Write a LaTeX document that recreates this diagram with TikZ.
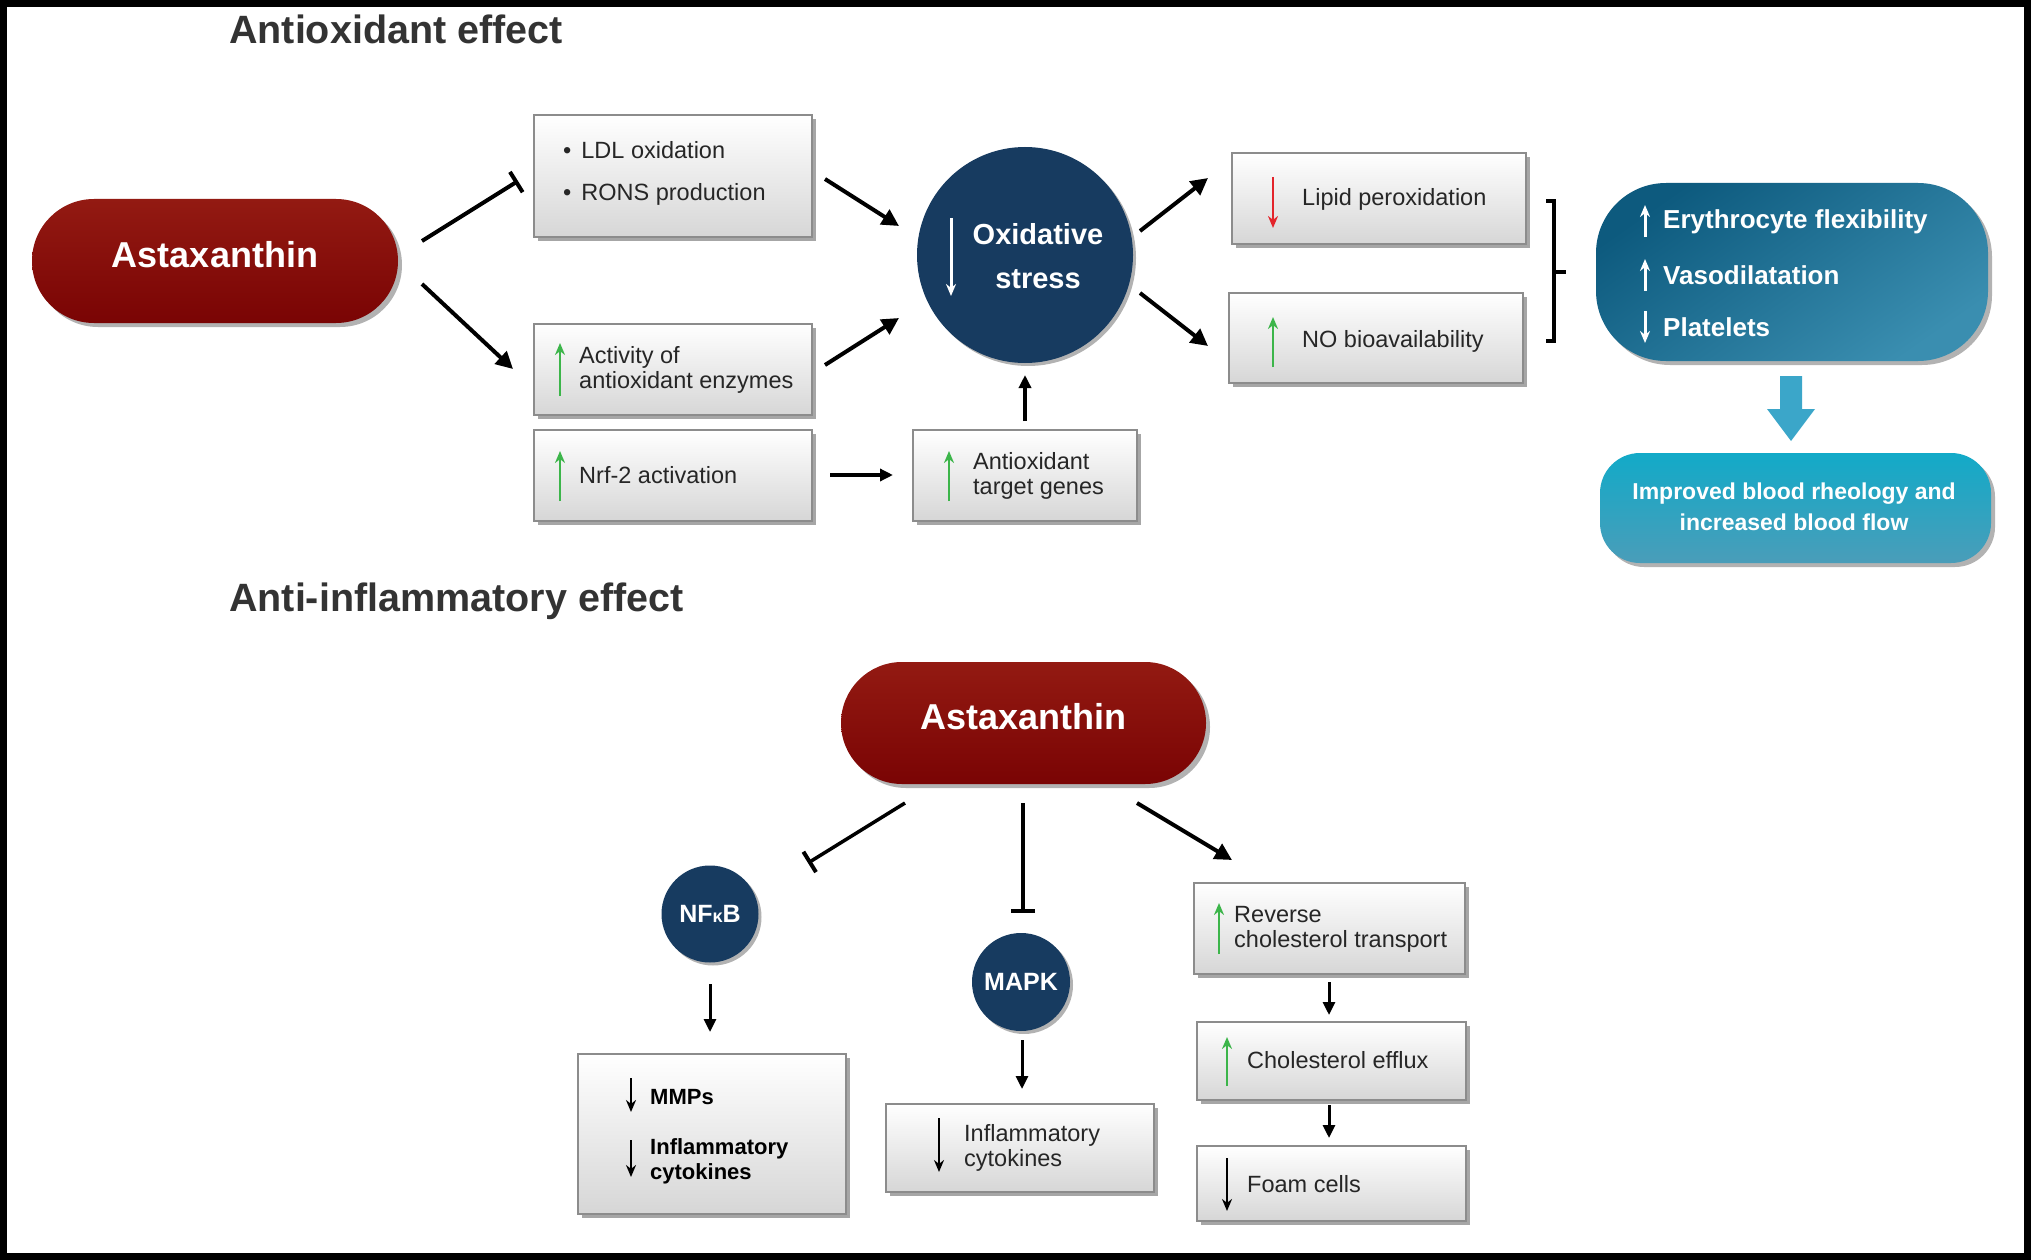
\documentclass[tikz,border=0pt]{standalone}
\usepackage{fontspec}
\setmainfont{Liberation Sans}
\usetikzlibrary{arrows.meta,shadows,shapes.misc}
\definecolor{navy}{HTML}{173B60}
\definecolor{txtc}{HTML}{262626}
\definecolor{titc}{HTML}{333333}
\definecolor{grn}{HTML}{3CB54A}
\definecolor{rd}{HTML}{E3242B}
\definecolor{darkred}{HTML}{7A0404}
\definecolor{midred}{HTML}{931A12}
\definecolor{tealA}{HTML}{0D5A7E}
\definecolor{tealB}{HTML}{3A8EB0}
\definecolor{cyanA}{HTML}{12AAC8}
\definecolor{cyanB}{HTML}{4A9DB9}
\definecolor{arrc}{HTML}{3BA6C9}
\tikzset{
  bx/.style={draw=black!45, line width=1.3pt, top color=white, bottom color=black!16,
    drop shadow={shadow xshift=4pt,shadow yshift=-4pt,opacity=.35,fill=black}, inner sep=0pt},
  pill/.style={rounded rectangle, top color=midred, bottom color=darkred, inner sep=0pt,
    drop shadow={shadow xshift=4pt,shadow yshift=-4pt,opacity=.3,fill=black}},
  pilltxt/.style={text=white, inner sep=0pt, font=\bfseries\fontsize{36}{40}\selectfont},
  navyc/.style={circle, fill=navy, inner sep=0pt, text=white,
    drop shadow={shadow xshift=3pt,shadow yshift=-3pt,opacity=.3,fill=black}},
  txt/.style={font=\fontsize{23.5}{25}\selectfont, text=txtc, anchor=west, align=left, inner sep=0pt},
  btxt/.style={font=\bfseries\fontsize{22}{25}\selectfont, text=black, anchor=west, align=left, inner sep=0pt},
  wtxt/.style={font=\bfseries\fontsize{26}{30}\selectfont, text=white, anchor=west, inner sep=0pt},
  title/.style={font=\bfseries\fontsize{39.5}{44}\selectfont, text=titc, anchor=west, inner sep=0pt},
  conn/.style={line width=4pt, -{Triangle[length=17pt,width=17pt]}},
  sconn/.style={line width=3pt, -{Triangle[length=13pt,width=12pt]}},
  inh/.style={line width=4pt, -{Bar[width=24pt,line width=4pt]}},
  gup/.style={grn, line width=2.8pt, -{Stealth[length=12pt,width=10pt]}},
  rdown/.style={rd, line width=2.8pt, -{Stealth[length=12pt,width=10pt]}},
  kdown/.style={black, line width=2.8pt, -{Stealth[length=12pt,width=10pt]}},
  warr/.style={white, line width=3pt, -{Stealth[length=12pt,width=10pt]}},
}
\begin{document}
\begin{tikzpicture}[x=1pt,y=-1pt]
\useasboundingbox (0,0) rectangle (2031,1260);
\fill[white] (0,0) rectangle (2031,1260);
\draw[black, line width=7pt] (3.5,3.5) rectangle (2027.5,1256.5);

% titles
\node[title] (t1) at (229,29) {Antioxidant effect};
\node[title] (t2) at (229,601) {Anti-inflammatory effect};

% ---------- antioxidant part ----------
\node[pill, minimum width=366pt, minimum height=124pt] (ast1) at (215,261) {};
\node[pilltxt] (ast1t) at (215,255) {Astaxanthin};

\node[bx, minimum width=278pt, minimum height=122pt] (ldl) at (673,176) {};
\node[txt] (ldlt) at (563,150) {•\hspace{10pt}LDL oxidation};
\node[txt] (ronst) at (563,194) {•\hspace{10pt}RONS production};

\node[bx, minimum width=278pt, minimum height=91pt] (act) at (673,369.5) {};
\draw[gup] (560,396) -- (560,343);
\node[txt] (actt) at (579,369.5) {Activity of\\antioxidant enzymes};

\node[bx, minimum width=278pt, minimum height=91pt] (nrf) at (673,475.5) {};
\draw[gup] (560,501) -- (560,451);
\node[txt] (nrft) at (579,475.5) {Nrf-2 activation};

\node[bx, minimum width=224pt, minimum height=91pt] (tgt) at (1025,475.5) {};
\draw[gup] (949,501) -- (949,451);
\node[txt] (tgtt) at (973,476) {Antioxidant\\target genes};

\node[navyc, minimum size=216pt] (ox) at (1025,255) {};
\draw[warr] (951,218) -- (951,296);
\node[font=\bfseries\fontsize{29}{44}\selectfont, text=white, align=center, inner sep=0pt] (oxt) at (1038,256) {Oxidative\\stress};

\node[bx, minimum width=294pt, minimum height=91pt] (lip) at (1379,198.5) {};
\draw[rdown] (1273,177) -- (1273,228);
\node[txt] (lipt) at (1302,199) {Lipid peroxidation};

\node[bx, minimum width=294pt, minimum height=90pt] (no) at (1376,338) {};
\draw[gup] (1273,367) -- (1273,317);
\node[txt] (not) at (1302,341) {NO bioavailability};

% bracket
\draw[line width=4pt] (1546,201) -- (1554,201) -- (1554,341) -- (1546,341);
\draw[line width=4pt] (1554,272) -- (1566,272);

\node[rectangle, rounded corners=70pt, minimum width=392pt, minimum height=178pt,
      top color=tealA, bottom color=tealB, shading angle=35, inner sep=0pt,
      drop shadow={shadow xshift=4pt,shadow yshift=-4pt,opacity=.3,fill=black}] (teal) at (1792,272) {};
\draw[warr] (1645,237) -- (1645,205);
\node[wtxt] (ery) at (1663,222) {Erythrocyte flexibility};
\draw[warr] (1645,291) -- (1645,259);
\node[wtxt] (vas) at (1663,275) {Vasodilatation};
\draw[warr] (1645,311) -- (1645,343);
\node[wtxt] (pla) at (1663,327) {Platelets};

\fill[arrc] (1780,376) -- (1802,376) -- (1802,409) -- (1815,409) -- (1791,441) -- (1767,409) -- (1780,409) -- cycle;

\node[rectangle, rounded corners=40pt, minimum width=391pt, minimum height=110pt,
      top color=cyanA, bottom color=cyanB, inner sep=0pt,
      drop shadow={shadow xshift=4pt,shadow yshift=-4pt,opacity=.3,fill=black}] (imp) at (1795.5,508) {};
\node[font=\bfseries\fontsize{23}{31}\selectfont, text=white, align=center, inner sep=0pt] (impt) at (1794,507) {Improved blood rheology and\\increased blood flow};

% connectors (top)
\coordinate (c1a) at (422,241); \coordinate (c1b) at (518,181);
\coordinate (c2a) at (422,284); \coordinate (c2b) at (513,369);
\coordinate (c3a) at (825,179); \coordinate (c3b) at (899,226);
\coordinate (c4a) at (825,365); \coordinate (c4b) at (899,318);
\coordinate (c5a) at (830,475); \coordinate (c5b) at (893,475);
\coordinate (c6a) at (1025,421); \coordinate (c6b) at (1025,375);
\coordinate (c7a) at (1140,231); \coordinate (c7b) at (1208,178);
\coordinate (c8a) at (1140,293); \coordinate (c8b) at (1208,346);
\draw[inh] (c1a) -- (c1b);
\draw[conn] (c2a) -- (c2b);
\draw[conn] (c3a) -- (c3b);
\draw[conn] (c4a) -- (c4b);
\draw[sconn, line width=3.5pt] (c5a) -- (c5b);
\draw[sconn, line width=3.5pt] (c6a) -- (c6b);
\draw[conn] (c7a) -- (c7b);
\draw[conn] (c8a) -- (c8b);

% ---------- anti-inflammatory part ----------
\node[pill, minimum width=365pt, minimum height=122pt] (ast2) at (1023.5,723) {};
\node[pilltxt] (ast2t) at (1023.5,717) {Astaxanthin};

\node[navyc, minimum size=97pt, font=\bfseries\fontsize{25}{28}\selectfont] (nfkb) at (710,914) {NF{\fontsize{18}{20}\selectfont κ}B};
\node[navyc, minimum size=98pt, font=\bfseries\fontsize{25}{28}\selectfont] (mapk) at (1021,982) {MAPK};

\node[bx, minimum width=268pt, minimum height=160pt] (mmp) at (712,1134) {};
\draw[kdown] (631,1078) -- (631,1112);
\node[btxt] (mmpt) at (650,1097) {MMPs};
\draw[kdown] (631,1140) -- (631,1177);
\node[btxt] (mmpi) at (650,1161) {Inflammatory\\cytokines};

\node[bx, minimum width=268pt, minimum height=88pt] (inf) at (1020,1148) {};
\draw[kdown] (939,1118) -- (939,1172);
\node[txt] (inft) at (964,1147.5) {Inflammatory\\cytokines};

\node[bx, minimum width=271pt, minimum height=91pt] (rev) at (1329.5,928.5) {};
\draw[gup] (1219,954) -- (1219,903);
\node[txt] (revt) at (1234,929.5) {Reverse\\cholesterol transport};

\node[bx, minimum width=269pt, minimum height=78pt] (eff) at (1331.5,1061) {};
\draw[gup] (1227,1086) -- (1227,1037);
\node[txt] (efft) at (1247,1060) {Cholesterol efflux};

\node[bx, minimum width=269pt, minimum height=75pt] (foam) at (1331.5,1183.5) {};
\draw[kdown] (1227,1158) -- (1227,1211);
\node[txt] (foamt) at (1247,1184) {Foam cells};

\coordinate (d1a) at (905,803); \coordinate (d1b) at (808,863);
\coordinate (d2a) at (1023,803); \coordinate (d2b) at (1023,913);
\coordinate (d3a) at (1137,803); \coordinate (d3b) at (1232,860);
\coordinate (d4a) at (710,984); \coordinate (d4b) at (710,1032);
\coordinate (d5a) at (1022,1040); \coordinate (d5b) at (1022,1089);
\coordinate (d6a) at (1329,982); \coordinate (d6b) at (1329,1015);
\coordinate (d7a) at (1329,1105); \coordinate (d7b) at (1329,1138);
\draw[inh, line width=3.5pt] (d1a) -- (d1b);
\draw[inh, line width=3.5pt] (d2a) -- (d2b);
\draw[conn] (d3a) -- (d3b);
\draw[sconn] (d4a) -- (d4b);
\draw[sconn] (d5a) -- (d5b);
\draw[sconn] (d6a) -- (d6b);
\draw[sconn] (d7a) -- (d7b);
\end{tikzpicture}
\end{document}
